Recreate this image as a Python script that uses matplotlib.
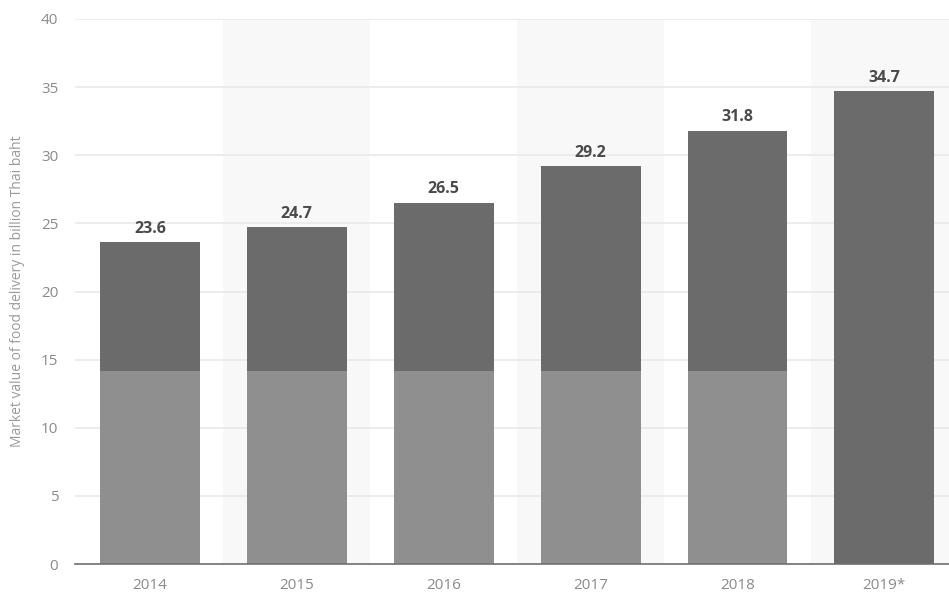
import matplotlib.pyplot as plt
import numpy as np

plt.rcParams['font.family'] = ['Open Sans', 'DejaVu Sans']

years = ['2014', '2015', '2016', '2017', '2018', '2019*']
values = [23.6, 24.7, 26.5, 29.2, 31.8, 34.7]
lower = [14.2, 14.2, 14.2, 14.2, 14.2, 0.0]

dark = '#6b6b6b'
light = '#8f8f8f'

fig = plt.figure(figsize=(9.49, 5.94), dpi=100)
ax = fig.add_axes([75 / 949, 30 / 594, 1 - 75 / 949, (564 - 19) / 594])

x = np.arange(len(years))
upper = [v - l for v, l in zip(values, lower)]

# alternating background columns
for i in x[1::2]:
    ax.axvspan(i - 0.5, i + 0.5, color='#f8f8f8', zorder=0, lw=0)

ax.bar(x, lower, width=0.68, color=light, zorder=2)
ax.bar(x, upper, bottom=lower, width=0.68, color=dark, zorder=2)

for xi, v in zip(x, values):
    ax.annotate(f'{v:.1f}', (xi, v), xytext=(0, 4), textcoords='offset points',
                ha='center', va='bottom', fontsize=11.5, fontweight='bold',
                color='#4a4a4a')

ax.set_ylim(0, 40)
ax.set_xlim(-0.51, 5.44)
ax.set_yticks(range(0, 41, 5))
ax.set_xticks(x)
ax.set_xticklabels(years)
ax.yaxis.grid(True, color='#e9e9e9', lw=1.2, zorder=1)
ax.set_axisbelow(True)

for s in ['top', 'right', 'left']:
    ax.spines[s].set_visible(False)
ax.spines['bottom'].set_color('#707070')
ax.spines['bottom'].set_linewidth(1.2)
ax.spines['bottom'].set_zorder(3)

ax.tick_params(axis='both', length=0, labelsize=11, labelcolor='#8a8a8a')
ax.tick_params(axis='y', pad=12)
ax.tick_params(axis='x', pad=10)

ax.set_ylabel('Market value of food delivery in billion Thai baht',
              fontsize=10, color='#9a9a9a')
ax.yaxis.set_label_coords(-50 / 874, 0.5)

fig.savefig('out.png', dpi=100)
